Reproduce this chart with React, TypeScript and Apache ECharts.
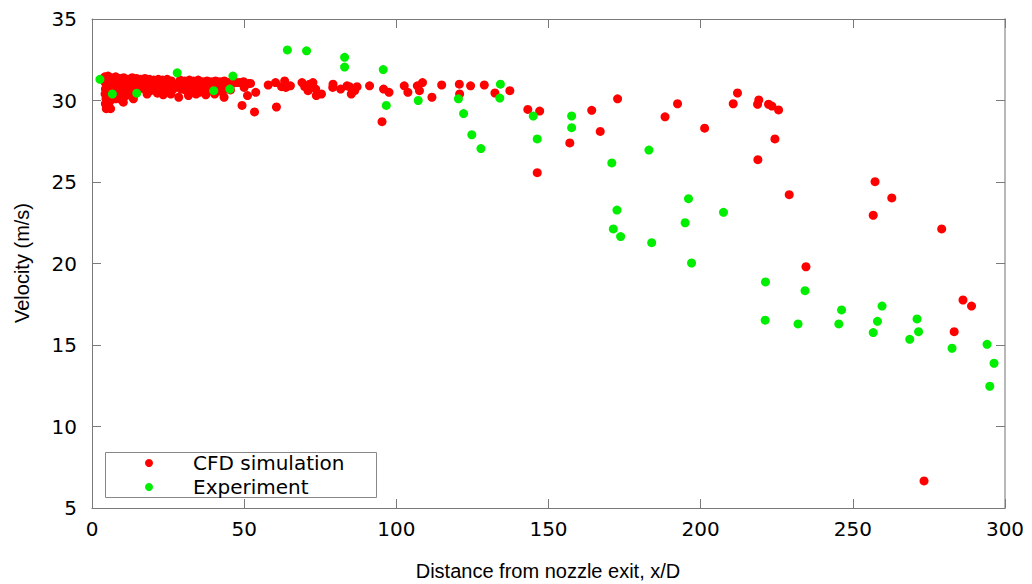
import React, { useEffect, useRef } from "react";
import * as echarts from "echarts";

const xTicks = [0, 50, 100, 150, 200, 250, 300];
const yTicks = [5, 10, 15, 20, 25, 30, 35];
const seriesNames = ["CFD simulation", "Experiment"];
const xTitle = "Distance from nozzle exit, x/D";
const yTitle = "Velocity (m/s)";

const cfdCluster: [number, number][] = [
  [4.2, 31.45], [5.3, 31.5], [6.5, 31.4], [7.8, 31.45], [9.1, 31.35], [10.4, 31.4], [11.8, 31.3], [13.2, 31.4],
  [14.6, 31.35], [16.0, 31.3], [17.4, 31.35], [18.9, 31.3], [20.3, 31.25], [21.8, 31.3], [23.2, 31.25], [24.7, 31.3],
  [26.1, 31.2], [29.0, 31.25], [30.5, 31.2], [32.0, 31.25], [33.4, 31.2], [34.9, 31.25], [36.3, 31.15], [37.8, 31.2],
  [39.2, 31.15], [40.6, 31.2], [42.1, 31.15], [43.5, 31.2], [45.0, 31.1], [46.4, 31.15],
  [4.3, 31.1], [5.6, 31.0], [7.0, 31.1], [8.4, 31.0], [9.8, 31.05], [11.1, 30.95], [12.5, 31.05], [13.9, 30.95],
  [15.3, 31.0], [16.8, 30.95], [18.2, 31.0], [19.6, 30.9], [21.1, 31.0], [22.5, 30.9], [24.0, 31.0], [25.4, 30.9],
  [26.8, 31.0], [28.3, 30.95], [29.7, 31.0], [31.2, 30.9], [32.6, 31.0], [34.1, 30.9], [35.6, 31.0], [37.0, 30.95],
  [38.5, 31.0], [39.9, 30.9], [41.4, 31.0], [42.8, 30.95], [44.3, 30.9], [45.8, 31.0],
  [4.4, 30.7], [5.8, 30.65], [7.2, 30.75], [8.6, 30.7], [10.0, 30.6], [11.5, 30.7], [12.9, 30.65], [14.3, 30.7],
  [16.2, 30.75], [17.7, 30.65], [19.3, 30.6], [20.8, 30.7], [22.2, 30.65], [23.8, 30.7], [25.1, 30.6], [26.7, 30.7],
  [29.2, 30.7], [30.6, 30.65], [32.4, 30.6], [33.9, 30.7], [35.3, 30.5], [36.8, 30.65], [38.1, 30.7], [39.6, 30.6],
  [41.0, 30.65], [42.6, 30.55], [44.0, 30.7], [45.5, 30.65],
  [4.3, 30.4], [4.6, 30.1], [4.4, 29.8], [4.7, 29.5], [5.6, 30.3], [5.9, 29.95], [6.1, 29.5], [5.4, 29.7],
  [7.3, 30.4], [7.8, 30.1], [8.9, 30.35], [9.6, 30.05], [10.3, 29.9], [11.2, 30.3], [12.4, 30.35], [13.6, 30.1],
  [14.1, 30.4], [18.1, 30.4], [21.5, 30.45], [23.4, 30.35], [25.9, 30.4], [28.5, 30.2], [31.7, 30.3], [34.2, 30.4],
  [37.4, 30.35], [43.4, 30.2], [40.3, 30.4], [47.5, 31.1], [48.5, 31.1], [50.0, 30.8], [51.5, 31.05], [49.8, 31.15],
];

const cfdScatter: [number, number][] = [
  [49.3, 29.7], [53.4, 29.3], [53.8, 30.5], [51.1, 30.3], [52.1, 31.05], [57.9, 30.95],
  [60.3, 31.1], [60.6, 29.6], [63.3, 31.2], [62.3, 30.85], [63.7, 30.8], [65.2, 30.9], [69.0, 31.1], [69.9, 30.85],
  [71.0, 30.6], [72.6, 31.1], [71.5, 31.0], [73.5, 30.7], [73.7, 30.3], [75.4, 30.4], [79.2, 31.0], [79.1, 30.8],
  [81.7, 30.7], [83.8, 30.9], [84.6, 30.85], [87.1, 30.85], [86.3, 30.6], [85.2, 30.4], [91.2, 30.9], [95.3, 28.7],
  [95.8, 30.7], [97.6, 30.5], [102.6, 30.9], [103.8, 30.5], [106.9, 30.9], [107.6, 30.6], [108.6, 31.1], [111.7, 30.2],
  [114.9, 30.95], [120.7, 31.0], [120.8, 30.4], [124.4, 30.9], [128.9, 30.95], [132.4, 30.46], [137.3, 30.6],
  [143.2, 29.45], [147.1, 29.35], [146.3, 25.57], [157.0, 27.4], [164.2, 29.4], [167.0, 28.1], [172.7, 30.1],
  [188.3, 29.0], [192.4, 29.8], [201.3, 28.3], [210.7, 29.8], [212.1, 30.46], [218.7, 29.77], [219.1, 30.03],
  [222.3, 29.77], [223.4, 29.66], [225.6, 29.42], [224.4, 27.64], [218.8, 26.37], [229.1, 24.22], [234.6, 19.8],
  [257.3, 25.02], [262.8, 24.02], [256.7, 22.96], [279.2, 22.12], [286.2, 17.76], [289.0, 17.39], [283.3, 15.82],
  [273.4, 6.66],
];

const expPoints: [number, number][] = [
  [2.6, 31.3], [6.7, 30.4], [14.7, 30.45], [28.0, 31.7], [40.0, 30.6], [45.3, 30.7], [46.3, 31.5],
  [64.2, 33.1], [70.5, 33.05], [83.0, 32.65], [83.0, 32.05], [95.7, 31.9], [96.7, 29.7], [107.2, 30.0],
  [120.4, 30.1], [122.1, 29.2], [124.8, 27.9], [127.8, 27.05], [134.2, 31.0], [134.0, 30.15], [145.0, 29.05],
  [146.3, 27.64], [157.6, 29.05], [157.6, 28.33], [170.8, 26.17], [183.0, 26.96], [196.0, 23.98], [207.5, 23.14],
  [194.9, 22.5], [172.5, 23.28], [171.3, 22.12], [173.7, 21.65], [183.9, 21.28], [197.0, 20.03], [221.3, 18.87],
  [221.2, 16.52], [234.3, 18.33], [232.0, 16.29], [246.3, 17.15], [245.4, 16.29], [259.6, 17.39], [258.1, 16.45],
  [256.7, 15.76], [271.1, 16.6], [271.6, 15.82], [268.7, 15.35], [282.6, 14.8], [294.1, 15.04], [296.4, 13.88],
  [295.0, 12.47],
];

const RED = "#ff0000";
const GREEN = "#00ee00";
const AXIS = "#7a7a7a";
const TICK_FONT = "DejaVu Sans";
const TITLE_FONT = "Liberation Sans";

export default function App() {
  const ref = useRef<HTMLDivElement>(null);
  useEffect(() => {
    if (!ref.current) return;
    const chart = echarts.init(ref.current, undefined, { renderer: "svg" });
    const xMin = xTicks[0];
    const xMax = xTicks[xTicks.length - 1];
    const yMin = yTicks[0];
    const yMax = yTicks[yTicks.length - 1];
    const xInt = xTicks[1] - xTicks[0];
    const yInt = yTicks[1] - yTicks[0];
    const baseAxis = {
      type: "value" as const,
      splitLine: { show: false },
      axisTick: { show: true, inside: true, length: 9, lineStyle: { color: AXIS, width: 1 } },
    };
    chart.setOption({
      animation: false,
      backgroundColor: "#ffffff",
      grid: { left: 92, top: 19, right: 27, bottom: 76, containLabel: false },
      xAxis: [
        {
          ...baseAxis,
          position: "bottom",
          min: xMin,
          max: xMax,
          interval: xInt,
          axisLine: { show: true, onZero: false, lineStyle: { color: AXIS, width: 1 } },
          axisLabel: { show: true, margin: 11, fontSize: 20, fontFamily: TICK_FONT, color: "#000" },
        },
        {
          ...baseAxis,
          position: "top",
          min: xMin,
          max: xMax,
          interval: xInt,
          axisLine: { show: true, onZero: false, lineStyle: { color: AXIS, width: 1 } },
          axisLabel: { show: false },
        },
      ],
      yAxis: [
        {
          ...baseAxis,
          position: "left",
          min: yMin,
          max: yMax,
          interval: yInt,
          axisLine: { show: true, onZero: false, lineStyle: { color: AXIS, width: 1 } },
          axisLabel: { show: true, margin: 15, fontSize: 20, fontFamily: TICK_FONT, color: "#000" },
        },
        {
          ...baseAxis,
          position: "right",
          min: yMin,
          max: yMax,
          interval: yInt,
          axisLine: { show: true, onZero: false, lineStyle: { color: "#b8b8b8", width: 2 } },
          axisLabel: { show: false },
        },
      ],
      legend: {
        show: true,
        orient: "vertical",
        left: 145,
        top: 453,
        padding: 0,
        itemGap: 4,
        itemWidth: 8,
        itemHeight: 8,
        icon: "circle",
        selectedMode: false,
        z: 10,
        data: seriesNames,
        textStyle: {
          fontSize: 20,
          fontFamily: TICK_FONT,
          color: "#000",
          lineHeight: 20,
          padding: [0, 0, 0, 35],
        },
      },
      graphic: [
        {
          type: "rect",
          shape: { x: 105.5, y: 452.5, width: 271, height: 45 },
          style: { fill: "none", stroke: "#888", lineWidth: 1 },
          z: 0,
          silent: true,
        },
        {
          type: "text",
          x: 548,
          y: 571,
          style: {
            text: xTitle,
            font: `20px "${TITLE_FONT}"`,
            fill: "#000",
            textAlign: "center",
            textVerticalAlign: "middle",
          },
        },
        {
          type: "text",
          x: 22,
          y: 263,
          rotation: Math.PI / 2,
          style: {
            text: yTitle,
            font: `20px "${TITLE_FONT}"`,
            fill: "#000",
            textAlign: "center",
            textVerticalAlign: "middle",
          },
        },
      ],
      series: [
        {
          name: seriesNames[0],
          type: "scatter",
          xAxisIndex: 0,
          yAxisIndex: 0,
          symbol: "circle",
          symbolSize: 9,
          itemStyle: { color: RED, opacity: 1 },
          data: [...cfdCluster, ...cfdScatter],
          z: 2,
        },
        {
          name: seriesNames[1],
          type: "scatter",
          xAxisIndex: 0,
          yAxisIndex: 0,
          symbol: "circle",
          symbolSize: 9,
          itemStyle: { color: GREEN, opacity: 1 },
          data: expPoints,
          z: 3,
        },
      ],
    });
    return () => chart.dispose();
  }, []);
  return (
    <div
      ref={ref}
      style={{ position: "fixed", left: 0, top: 0, width: 1032, height: 584, background: "#fff" }}
    />
  );
}
